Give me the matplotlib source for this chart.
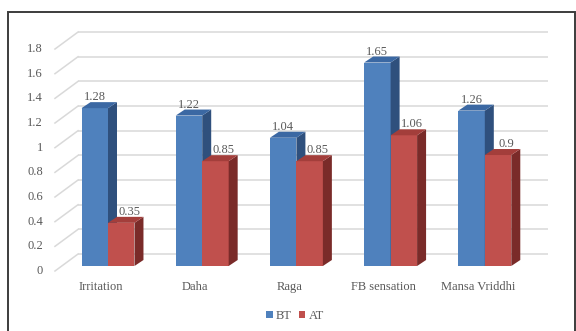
import matplotlib
matplotlib.use("Agg")
import matplotlib.pyplot as plt
from matplotlib.patches import Polygon, Rectangle
import numpy as np

categories = ["Irritation", "Daha", "Raga", "FB sensation", "Mansa Vriddhi"]
bt_values = [1.28, 1.22, 1.04, 1.65, 1.26]
at_values = [0.35, 0.85, 0.85, 1.06, 0.9]
series_names = ["BT", "AT"]
y_ticks = [0, 0.2, 0.4, 0.6, 0.8, 1, 1.2, 1.4, 1.6, 1.8]

plt.rcParams["font.family"] = ["Liberation Serif", "DejaVu Serif"]
FS = 9
TXT = "#595959"
GRID = "#d9d9d9"

fig = plt.figure(figsize=(5.76, 3.31), dpi=100)
ax = fig.add_axes([0, 0, 1, 1])
ax.set_xlim(-1.1465, 4.968)
ax.set_ylim(-0.527, 2.157)
ax.axis("off")

# pseudo-3D geometry (category units / value units)
bar_w = 0.281
depth_x = 0.0955
depth_y = 0.0487
wall_dy = 0.0973     # back wall lift
front_dy = -0.0406   # front edge of the side wall
wall_x0, wall_x1 = -0.318, 4.671
side_x0 = -0.563

# back wall gridlines and side wall diagonals
for v in y_ticks:
    ax.plot([wall_x0, wall_x1], [v + wall_dy, v + wall_dy], color=GRID, lw=1.1, zorder=1,
            solid_capstyle="butt")
    ax.plot([side_x0, wall_x0], [v + front_dy, v + wall_dy], color=GRID, lw=1.1, zorder=1)
    ax.text(-0.69, v + front_dy, f"{v:g}", ha="right", va="center", fontsize=FS, color=TXT)

x = np.arange(len(categories))
styles = [
    dict(front="#4f81bd", side="#2f507d", top="#3b68a3", label_dx=0.0),
    dict(front="#c0504d", side="#7a2b29", top="#a33e3b", label_dx=0.085),
]
containers = []
for s, (vals, st, off) in enumerate(zip([bt_values, at_values], styles, [-bar_w / 2, bar_w / 2])):
    bars = ax.bar(x + off, vals, width=bar_w, color=st["front"], zorder=3 + 3 * s,
                  label=series_names[s])
    containers.append(bars)
    for rect, v in zip(bars, vals):
        L = rect.get_x()
        R = L + rect.get_width()
        side = Polygon([(R, 0), (R + depth_x, depth_y), (R + depth_x, v + depth_y), (R, v)],
                       closed=True, facecolor=st["side"], edgecolor="none", zorder=3 + 3 * s + 1)
        top = Polygon([(L, v), (L + depth_x, v + depth_y), (R + depth_x, v + depth_y), (R, v)],
                      closed=True, facecolor=st["top"], edgecolor="none", zorder=3 + 3 * s + 2)
        ax.add_patch(side)
        ax.add_patch(top)
        ax.text((L + R) / 2 + st["label_dx"], v + 0.065, f"{v:g}", ha="center", va="baseline",
                fontsize=FS, color=TXT, zorder=10)

for i, c in enumerate(categories):
    ax.text(i - 0.074, -0.17, c, ha="center", va="center", fontsize=FS, color=TXT)

leg = fig.legend(handles=containers, labels=series_names, loc="center",
                 bbox_to_anchor=(295 / 576, 1 - 316 / 331), ncol=2, frameon=False,
                 fontsize=FS, handlelength=0.5, handleheight=0.5, handletextpad=0.25,
                 columnspacing=0.6, labelcolor=TXT)

# chart border
fig.patches.append(Rectangle((7.5 / 576, -0.05), 567 / 576, 1.05 - 11.5 / 331,
                             transform=fig.transFigure, fill=False, edgecolor="#3c3c3c",
                             lw=1.4, zorder=20))

fig.savefig("out.png", dpi=100)
